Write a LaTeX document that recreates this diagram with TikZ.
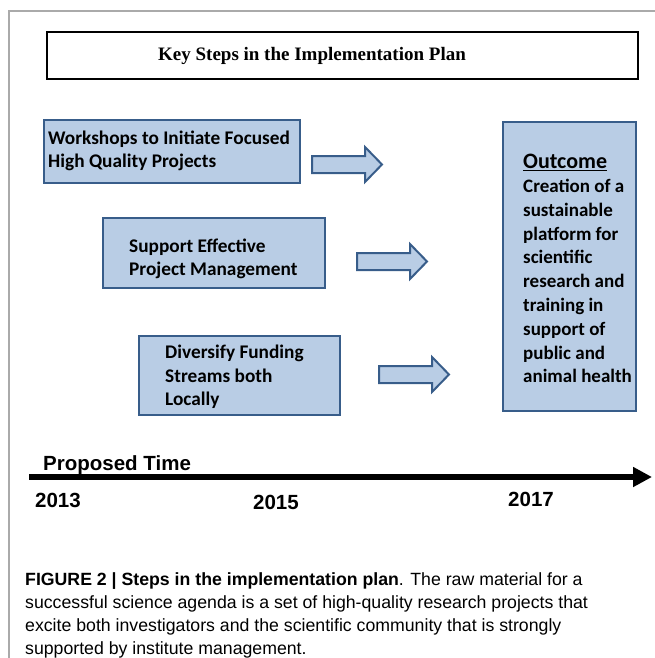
\documentclass[tikz,border=0pt]{standalone}
\usepackage{fontspec}
\setmainfont{Liberation Sans}
\newfontfamily\boxfont{Carlito}
\newfontfamily\headfont{Liberation Serif}
\usetikzlibrary{arrows.meta}
\definecolor{boxfill}{RGB}{185,205,229}
\definecolor{boxline}{RGB}{56,93,138}
\definecolor{framegray}{RGB}{170,170,170}

\begin{document}
\begin{tikzpicture}[x=1pt, y=1pt, yscale=-1,
    stepbox/.style={draw=boxline, fill=boxfill, line width=2, inner sep=0},
    steptext/.style={align=left, inner sep=0, font=\boxfont\bfseries\fontsize{19.3}{23.5}\selectfont},
    blockarrow/.style={draw=boxline, fill=boxfill, line width=2, line join=miter},
    yearlabel/.style={anchor=west, inner sep=0, font=\bfseries\fontsize{20.5}{24}\selectfont},
    captionline/.style={anchor=base west, inner sep=0, font=\fontsize{17.7}{23}\selectfont}]
  \useasboundingbox (0,0) rectangle (655,658);
  % frame
  \draw[framegray, line width=1.8] (9,658) -- (9,11) -- (655,11);
  % heading
  \node[draw, line width=1.3, minimum width=591, minimum height=47, inner sep=0] (head) at (342.5,55.5) {};
  \node[inner sep=0, font=\headfont\bfseries\fontsize{19}{22}\selectfont] (headtxt) at (312,55.5) {Key Steps in the Implementation Plan};
  % steps
  \node[stepbox, minimum width=256, minimum height=63] (workshops) at (172,151.5) {};
  \node[steptext, anchor=west] (workshopstxt) at (48,151) {Workshops to Initiate Focused\\High Quality Projects};
  \node[stepbox, minimum width=222, minimum height=70] (support) at (214,253) {};
  \node[steptext, anchor=west] (supporttxt) at (129,259) {Support Effective\\Project Management};
  \node[stepbox, minimum width=201, minimum height=79] (funding) at (239.5,375.5) {};
  \node[steptext, anchor=west] (fundingtxt) at (165,377) {Diversify Funding\\Streams both\\Locally};
  % outcome
  \node[stepbox, minimum width=133, minimum height=289] (outcome) at (569.5,266.5) {};
  \node[steptext, anchor=north west, font=\boxfont\bfseries\fontsize{19}{23.8}\selectfont] (outcometxt) at (523,154)
    {{\fontsize{22}{24}\selectfont\underline{Outcome}}\\Creation of a\\sustainable\\platform for\\scientific\\research and\\training in\\support of\\public and\\animal health};
  % arrows
  \foreach \xs/\yc in {312/164.5, 357/261.5, 379/374.5}
    \draw[blockarrow] (\xs,\yc-8.5) -- (\xs+53,\yc-8.5) -- (\xs+53,\yc-17.5) -- (\xs+70,\yc)
      -- (\xs+53,\yc+17.5) -- (\xs+53,\yc+8.5) -- (\xs,\yc+8.5) -- cycle;
  % time line
  \coordinate (tstart) at (29,477);
  \coordinate (tend) at (652,477);
  \draw[line width=5.5, -{Triangle[length=19pt,width=19pt]}] (tstart) -- (tend);
  \node[anchor=base west, inner sep=0, font=\bfseries\fontsize{20.5}{24}\selectfont] (proposed) at (43,470) {Proposed Time};
  \node[yearlabel] (y2013) at (35,500) {2013};
  \node[yearlabel] (y2015) at (253,502.5) {2015};
  \node[yearlabel] (y2017) at (508,499) {2017};
  % caption
  \node[captionline] (cap1) at (25,585) {\textbf{FIGURE 2 | Steps in the implementation plan}. The raw material for a};
  \node[captionline] (cap2) at (25,608) {successful science agenda is a set of high-quality research projects that};
  \node[captionline] (cap3) at (25,631) {excite both investigators and the scientific community that is strongly};
  \node[captionline] (cap4) at (25,654) {supported by institute management.};
\end{tikzpicture}
\end{document}
